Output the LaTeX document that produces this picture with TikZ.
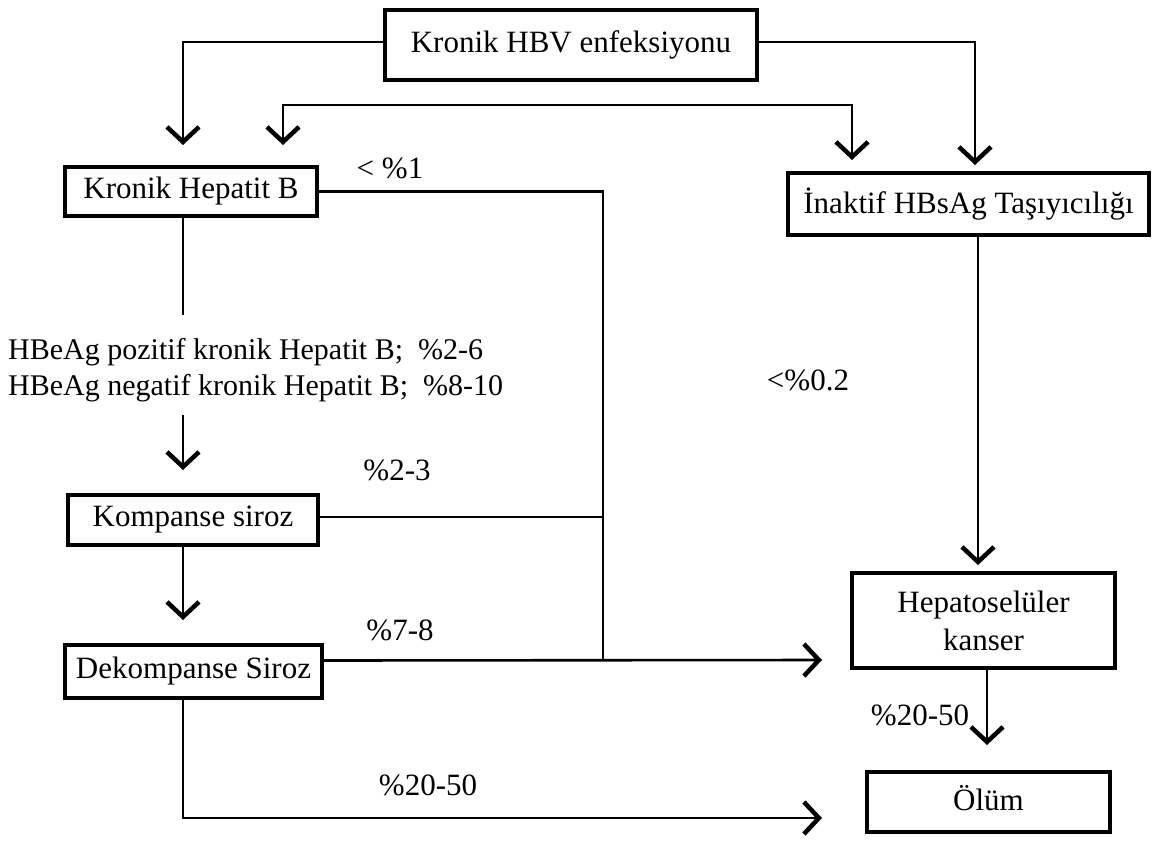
\documentclass[tikz,border=0pt]{standalone}
\usepackage{fontspec}
\setmainfont{Liberation Serif}
\usetikzlibrary{arrows.meta}
\begin{document}
\begin{tikzpicture}[x=1pt,y=-1pt,
  box/.style={draw=black,line width=4pt,fill=white,inner sep=0pt,outer sep=0pt,
    font=\fontsize{31}{38}\selectfont,align=center},
  lbl/.style={inner sep=0pt,font=\fontsize{31}{36}\selectfont},
  conn/.style={line width=2.6pt},
  arr/.style={conn,-{Straight Barb[length=15pt,width=32pt,line width=4.5pt]}},
  arrboth/.style={conn,{Straight Barb[length=15pt,width=32pt,line width=4.5pt]}-{Straight Barb[length=15pt,width=32pt,line width=4.5pt]}}]
\useasboundingbox (0,0) rectangle (1152,855);
% boxes
\node[box,minimum width=372pt,minimum height=70pt] (top) at (571,45) {Kronik HBV enfeksiyonu};
\node[box,minimum width=252pt,minimum height=49pt] (khb) at (191,191.5) {Kronik Hepatit B};
\node[box,minimum width=361pt,minimum height=62pt] (ina) at (968.5,204) {İnaktif HBsAg Taşıyıcılığı};
\node[box,minimum width=250pt,minimum height=50pt] (komp) at (193,520) {Kompanse siroz};
\node[box,minimum width=257pt,minimum height=53pt] (dek) at (193.5,671.5) {Dekompanse Siroz};
\node[box,minimum width=263pt,minimum height=95pt] (hcc) at (983.5,620.5) {Hepatoselüler\\kanser};
\node[box,minimum width=243pt,minimum height=60pt] (olum) at (988.5,802) {\raisebox{8pt}{Ölüm}};
% coordinates
\coordinate (tL) at (183,145);
\coordinate (tR) at (975,165);
\coordinate (bL) at (283,145);
\coordinate (bR) at (852,160);
\coordinate (bLc) at (283,105);
\coordinate (bRc) at (852,105);
\coordinate (vx) at (603,660);
\coordinate (k1) at (183,315);
\coordinate (k2) at (183,415);
\coordinate (k3) at (183,470);
\coordinate (k4) at (183,620);
\coordinate (d1) at (822,660);
\coordinate (d2) at (822,818);
\coordinate (i1) at (978,565);
\coordinate (h1) at (987,745);
% connectors
\draw[arr] ([yshift=3pt]top.west) -| (tL);
\draw[arr] ([yshift=3pt]top.east) -| (tR);
\draw[arrboth] (bL) -- (bLc) -- (bRc) -- (bR);
\draw[conn] (khb.east) -| (vx);
\draw[conn] ([yshift=3pt]komp.east) -- ([yshift=3pt]komp.east -| vx);
\draw[arr] ([yshift=11pt]dek.east) -- (d1);
\draw[conn] ([xshift=-8pt]khb.south) -- (k1);
\draw[arr] (k2) -- (k3);
\draw[arr] ([xshift=-10pt]komp.south) -- (k4);
\draw[arr] ([xshift=-10.5pt]dek.south) |- (d2);
\draw[arr] ([xshift=9.5pt]ina.south) -- (i1);
\draw[arr] ([xshift=3.5pt]hcc.south) -- (h1);
% labels
\node[lbl] (l1) at (390,168) {< \%1};
\node[lbl] (l2) at (808,380) {<\%0.2};
\node[lbl] (l3) at (397,470) {\%2-3};
\node[lbl] (l4) at (400,630) {\%7-8};
\node[lbl] (l5) at (920,715) {\%20-50};
\node[lbl] (l6) at (428,785) {\%20-50};
\node[lbl,anchor=west,align=left,font=\fontsize{30}{36}\selectfont] (hbe) at (8,370) {HBeAg pozitif kronik Hepatit B;\ \ \%2-6\\HBeAg negatif kronik Hepatit B;\ \ \%8-10};
\end{tikzpicture}
\end{document}
